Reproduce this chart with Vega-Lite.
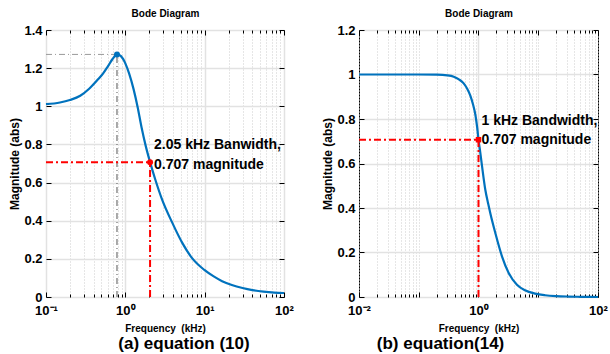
{
  "$schema": "https://vega.github.io/schema/vega-lite/v6.json",
  "padding": {"left": 8, "top": 8, "right": 4, "bottom": 0},
  "background": "white",
  "config": {
    "font": "Liberation Sans",
    "view": {"stroke": "black", "strokeWidth": 1},
    "axis": {
      "domain": false,
      "labelFontSize": 13,
      "labelFontWeight": "bold",
      "labelColor": "black",
      "titleFontSize": 12,
      "titleFontWeight": "bold",
      "titleColor": "black",
      "tickColor": "black",
      "labelFlush": false,
      "labelOverlap": false,
      "labelBound": false
    },
    "title": {"fontSize": 17, "fontWeight": "bold", "color": "black"}
  },
  "spacing": 27,
  "hconcat": [
    {
      "width": 238,
      "height": 267,
      "title": {"text": "(a) equation (10)", "orient": "bottom", "anchor": "middle", "frame": "group", "offset": 3, "dx": 19},
      "layer": [
        {
          "data": {"values": [
            {"f": 0.1, "m": 1.011}, {"f": 0.15, "m": 1.02}, {"f": 0.2, "m": 1.033}, {"f": 0.27, "m": 1.055},
            {"f": 0.35, "m": 1.092}, {"f": 0.45, "m": 1.14}, {"f": 0.52, "m": 1.17}, {"f": 0.6, "m": 1.208},
            {"f": 0.69, "m": 1.248}, {"f": 0.74, "m": 1.264}, {"f": 0.785, "m": 1.272}, {"f": 0.83, "m": 1.27},
            {"f": 0.88, "m": 1.263}, {"f": 0.94, "m": 1.247}, {"f": 1.0, "m": 1.225}, {"f": 1.12, "m": 1.17},
            {"f": 1.27, "m": 1.09}, {"f": 1.43, "m": 0.995}, {"f": 1.6, "m": 0.89}, {"f": 1.8, "m": 0.795},
            {"f": 2.05, "m": 0.707}, {"f": 2.39, "m": 0.615},
            {"f": 2.9, "m": 0.512}, {"f": 3.9, "m": 0.39}, {"f": 5.2, "m": 0.285}, {"f": 6.9, "m": 0.205},
            {"f": 9.9, "m": 0.142}, {"f": 13, "m": 0.108}, {"f": 16.6, "m": 0.083}, {"f": 22, "m": 0.063},
            {"f": 30, "m": 0.047}, {"f": 40, "m": 0.036}, {"f": 55, "m": 0.028}, {"f": 75, "m": 0.023},
            {"f": 100, "m": 0.021}
          ]},
          "mark": {"type": "line", "color": "#0072BD", "strokeWidth": 2.2, "interpolate": "monotone"},
          "encoding": {
            "x": {
              "field": "f", "type": "quantitative",
              "scale": {"type": "log", "domain": [0.1, 100], "nice": false},
              "axis": {
                "orient": "bottom",
                "title": "Frequency\u00a0 (kHz)",
                "titleFontSize": 10,
                "titlePadding": 4,
                "values": [0.1, 0.2, 0.3, 0.4, 0.5, 0.6, 0.7, 0.8, 0.9, 1, 2, 3, 4, 5, 6, 7, 8, 9, 10, 20, 30, 40, 50, 60, 70, 80, 90, 100],
                "labelExpr": "datum.value == 0.1 ? '10⁻¹' : datum.value == 1 ? '10⁰' : datum.value == 10 ? '10¹' : datum.value == 100 ? '10²' : ''",
                "labelPadding": 12,
                "tickSize": {"condition": {"test": "abs(log(datum.value)/LN10 - round(log(datum.value)/LN10)) < 0.001", "value": -5}, "value": -3},
                "grid": true,
                "gridColor": {"condition": {"test": "abs(log(datum.value)/LN10 - round(log(datum.value)/LN10)) < 0.001", "value": "#e2e2e2"}, "value": "#cccccc"},
                "gridDash": {"condition": {"test": "abs(log(datum.value)/LN10 - round(log(datum.value)/LN10)) < 0.001", "value": []}, "value": [1, 2]},
                "gridWidth": {"condition": {"test": "abs(log(datum.value)/LN10 - round(log(datum.value)/LN10)) < 0.001", "value": 1.5}, "value": 1}
              }
            },
            "y": {
              "field": "m", "type": "quantitative",
              "scale": {"domain": [0, 1.4], "nice": false, "zero": false},
              "axis": {
                "orient": "left",
                "title": "Magnitude (abs)",
                "titlePadding": 2,
                "values": [0, 0.2, 0.4, 0.6, 0.8, 1, 1.2, 1.4],
                "format": "~g",
                "labelPadding": 9,
                "tickSize": -5,
                "grid": true,
                "gridColor": "#e2e2e2",
                "gridWidth": 1.5
              }
            }
          }
        },
        {
          "data": {"values": [{"f": 0.1, "m": 0}, {"f": 100, "m": 1.4}]},
          "mark": {"type": "point", "opacity": 0},
          "encoding": {
            "x": {
              "field": "f", "type": "quantitative",
              "scale": {"type": "log", "domain": [0.1, 100], "nice": false},
              "axis": {
                "orient": "top", "title": "Bode Diagram", "titleFontSize": 10, "titlePadding": 11, "labels": false, "grid": false,
                "values": [0.1, 0.2, 0.3, 0.4, 0.5, 0.6, 0.7, 0.8, 0.9, 1, 2, 3, 4, 5, 6, 7, 8, 9, 10, 20, 30, 40, 50, 60, 70, 80, 90, 100],
                "tickSize": {"condition": {"test": "abs(log(datum.value)/LN10 - round(log(datum.value)/LN10)) < 0.001", "value": -5}, "value": -3}
              }
            },
            "y": {
              "field": "m", "type": "quantitative",
              "scale": {"domain": [0, 1.4], "nice": false, "zero": false},
              "axis": {"orient": "right", "title": null, "labels": false, "grid": false, "values": [0, 0.2, 0.4, 0.6, 0.8, 1, 1.2, 1.4], "tickSize": -5}
            }
          }
        },
        {
          "data": {"values": [{"f": 0.1, "f2": 0.785, "m": 1.272, "m2": 1.272}]},
          "mark": {"type": "rule", "color": "#999999", "strokeWidth": 1, "strokeDash": [6, 3, 1, 3]},
          "encoding": {
            "x": {"field": "f", "type": "quantitative", "scale": {"type": "log", "domain": [0.1, 100], "nice": false}, "axis": null},
            "x2": {"field": "f2"},
            "y": {"field": "m", "type": "quantitative", "scale": {"domain": [0, 1.4], "nice": false, "zero": false}, "axis": null},
            "y2": {"field": "m2"}
          }
        },
        {
          "data": {"values": [{"f": 0.785, "f2": 0.785, "m": 0, "m2": 1.272}]},
          "mark": {"type": "rule", "color": "#555555", "strokeWidth": 1, "strokeDash": [6, 3, 1, 3]},
          "encoding": {
            "x": {"field": "f", "type": "quantitative", "scale": {"type": "log", "domain": [0.1, 100], "nice": false}, "axis": null},
            "x2": {"field": "f2"},
            "y": {"field": "m", "type": "quantitative", "scale": {"domain": [0, 1.4], "nice": false, "zero": false}, "axis": null},
            "y2": {"field": "m2"}
          }
        },
        {
          "data": {"values": [
            {"f": 0.1, "f2": 2.05, "m": 0.707, "m2": 0.707},
            {"f": 2.05, "f2": 2.05, "m": 0, "m2": 0.707}
          ]},
          "mark": {"type": "rule", "color": "#ff0000", "strokeWidth": 2, "strokeDash": [7, 3, 2, 3]},
          "encoding": {
            "x": {"field": "f", "type": "quantitative", "scale": {"type": "log", "domain": [0.1, 100], "nice": false}, "axis": null},
            "x2": {"field": "f2"},
            "y": {"field": "m", "type": "quantitative", "scale": {"domain": [0, 1.4], "nice": false, "zero": false}, "axis": null},
            "y2": {"field": "m2"}
          }
        },
        {
          "data": {"values": [{"f": 0.785, "m": 1.272}]},
          "mark": {"type": "circle", "color": "#0072BD", "size": 36, "opacity": 1},
          "encoding": {
            "x": {"field": "f", "type": "quantitative", "scale": {"type": "log", "domain": [0.1, 100], "nice": false}, "axis": null},
            "y": {"field": "m", "type": "quantitative", "scale": {"domain": [0, 1.4], "nice": false, "zero": false}, "axis": null}
          }
        },
        {
          "data": {"values": [{"f": 2.05, "m": 0.707, "label": "2.05 kHz Banwidth,\n0.707 magnitude"}]},
          "layer": [
            {
              "mark": {"type": "circle", "color": "#ff0000", "size": 36, "opacity": 1},
              "encoding": {
                "x": {"field": "f", "type": "quantitative", "scale": {"type": "log", "domain": [0.1, 100], "nice": false}, "axis": null},
                "y": {"field": "m", "type": "quantitative", "scale": {"domain": [0, 1.4], "nice": false, "zero": false}, "axis": null}
              }
            },
            {
              "mark": {"type": "text", "align": "left", "baseline": "middle", "dx": 4, "dy": -17, "lineBreak": "\n", "lineHeight": 20, "fontSize": 14, "fontWeight": "bold", "color": "black"},
              "encoding": {
                "x": {"field": "f", "type": "quantitative", "scale": {"type": "log", "domain": [0.1, 100], "nice": false}, "axis": null},
                "y": {"field": "m", "type": "quantitative", "scale": {"domain": [0, 1.4], "nice": false, "zero": false}, "axis": null},
                "text": {"field": "label"}
              }
            }
          ]
        }
      ],
      "resolve": {"axis": {"x": "independent", "y": "independent"}}
    },
    {
      "width": 239,
      "height": 267,
      "title": {"text": "(b) equation(14)", "orient": "bottom", "anchor": "middle", "frame": "group", "offset": 3, "dx": -38},
      "layer": [
        {
          "data": {"values": [
            {"f": 0.01, "m": 1.0}, {"f": 0.05, "m": 1.0}, {"f": 0.1, "m": 1.0}, {"f": 0.2, "m": 0.999},
            {"f": 0.3, "m": 0.996}, {"f": 0.385, "m": 0.99}, {"f": 0.47, "m": 0.978}, {"f": 0.565, "m": 0.96},
            {"f": 0.65, "m": 0.935}, {"f": 0.73, "m": 0.905}, {"f": 0.81, "m": 0.865}, {"f": 0.885, "m": 0.82},
            {"f": 0.95, "m": 0.762}, {"f": 1.0, "m": 0.707}, {"f": 1.07, "m": 0.65}, {"f": 1.146, "m": 0.588},
            {"f": 1.3, "m": 0.482}, {"f": 1.45, "m": 0.42}, {"f": 1.58, "m": 0.375}, {"f": 1.91, "m": 0.288},
            {"f": 2.47, "m": 0.183}, {"f": 3.2, "m": 0.108}, {"f": 4.4, "m": 0.055}, {"f": 6, "m": 0.03},
            {"f": 8.9, "m": 0.015}, {"f": 13, "m": 0.008}, {"f": 20, "m": 0.004}, {"f": 32, "m": 0.002},
            {"f": 50, "m": 0.001}, {"f": 100, "m": 0.0}
          ]},
          "mark": {"type": "line", "color": "#0072BD", "strokeWidth": 2.2, "interpolate": "monotone"},
          "encoding": {
            "x": {
              "field": "f", "type": "quantitative",
              "scale": {"type": "log", "domain": [0.01, 100], "nice": false},
              "axis": {
                "orient": "bottom",
                "title": "Frequency\u00a0 (kHz)",
                "titleFontSize": 10,
                "titlePadding": 4,
                "values": [0.01, 0.02, 0.03, 0.04, 0.05, 0.06, 0.07, 0.08, 0.09, 0.1, 0.2, 0.3, 0.4, 0.5, 0.6, 0.7, 0.8, 0.9, 1, 2, 3, 4, 5, 6, 7, 8, 9, 10, 20, 30, 40, 50, 60, 70, 80, 90, 100],
                "labelExpr": "datum.value == 0.01 ? '10⁻²' : datum.value == 1 ? '10⁰' : datum.value == 100 ? '10²' : ''",
                "labelPadding": 12,
                "tickSize": {"condition": {"test": "abs(log(datum.value)/LN10 - round(log(datum.value)/LN10)) < 0.001", "value": -5}, "value": -3},
                "grid": true,
                "gridColor": {"condition": {"test": "datum.value == 1", "value": "#e2e2e2"}, "value": "#cccccc"},
                "gridDash": {"condition": {"test": "datum.value == 1", "value": []}, "value": [1, 2]},
                "gridWidth": {"condition": {"test": "datum.value == 1", "value": 1.5}, "value": 1}
              }
            },
            "y": {
              "field": "m", "type": "quantitative",
              "scale": {"domain": [0, 1.2], "nice": false, "zero": false},
              "axis": {
                "orient": "left",
                "title": "Magnitude (abs)",
                "titlePadding": 2,
                "values": [0, 0.2, 0.4, 0.6, 0.8, 1, 1.2],
                "format": "~g",
                "labelPadding": 9,
                "tickSize": -5,
                "grid": true,
                "gridColor": "#e2e2e2",
                "gridWidth": 1.5
              }
            }
          }
        },
        {
          "data": {"values": [{"f": 0.01, "m": 0}, {"f": 100, "m": 1.2}]},
          "mark": {"type": "point", "opacity": 0},
          "encoding": {
            "x": {
              "field": "f", "type": "quantitative",
              "scale": {"type": "log", "domain": [0.01, 100], "nice": false},
              "axis": {
                "orient": "top", "title": "Bode Diagram", "titleFontSize": 10, "titlePadding": 11, "labels": false, "grid": false,
                "values": [0.01, 0.02, 0.03, 0.04, 0.05, 0.06, 0.07, 0.08, 0.09, 0.1, 0.2, 0.3, 0.4, 0.5, 0.6, 0.7, 0.8, 0.9, 1, 2, 3, 4, 5, 6, 7, 8, 9, 10, 20, 30, 40, 50, 60, 70, 80, 90, 100],
                "tickSize": {"condition": {"test": "abs(log(datum.value)/LN10 - round(log(datum.value)/LN10)) < 0.001", "value": -5}, "value": -3}
              }
            },
            "y": {
              "field": "m", "type": "quantitative",
              "scale": {"domain": [0, 1.2], "nice": false, "zero": false},
              "axis": {"orient": "right", "title": null, "labels": false, "grid": false, "values": [0, 0.2, 0.4, 0.6, 0.8, 1, 1.2], "tickSize": -5}
            }
          }
        },
        {
          "data": {"values": [
            {"f": 0.01, "f2": 1.0, "m": 0.707, "m2": 0.707},
            {"f": 1.0, "f2": 1.0, "m": 0, "m2": 0.707}
          ]},
          "mark": {"type": "rule", "color": "#ff0000", "strokeWidth": 2, "strokeDash": [7, 3, 2, 3]},
          "encoding": {
            "x": {"field": "f", "type": "quantitative", "scale": {"type": "log", "domain": [0.01, 100], "nice": false}, "axis": null},
            "x2": {"field": "f2"},
            "y": {"field": "m", "type": "quantitative", "scale": {"domain": [0, 1.2], "nice": false, "zero": false}, "axis": null},
            "y2": {"field": "m2"}
          }
        },
        {
          "data": {"values": [{"f": 1.0, "m": 0.707, "label": "1 kHz Bandwidth,\n0.707 magnitude"}]},
          "layer": [
            {
              "mark": {"type": "square", "color": "#ff0000", "size": 30, "opacity": 1},
              "encoding": {
                "x": {"field": "f", "type": "quantitative", "scale": {"type": "log", "domain": [0.01, 100], "nice": false}, "axis": null},
                "y": {"field": "m", "type": "quantitative", "scale": {"domain": [0, 1.2], "nice": false, "zero": false}, "axis": null}
              }
            },
            {
              "mark": {"type": "text", "align": "left", "baseline": "middle", "dx": 3, "dy": -19, "lineBreak": "\n", "lineHeight": 19, "fontSize": 14, "fontWeight": "bold", "color": "black"},
              "encoding": {
                "x": {"field": "f", "type": "quantitative", "scale": {"type": "log", "domain": [0.01, 100], "nice": false}, "axis": null},
                "y": {"field": "m", "type": "quantitative", "scale": {"domain": [0, 1.2], "nice": false, "zero": false}, "axis": null},
                "text": {"field": "label"}
              }
            }
          ]
        }
      ],
      "resolve": {"axis": {"x": "independent", "y": "independent"}}
    }
  ]
}
